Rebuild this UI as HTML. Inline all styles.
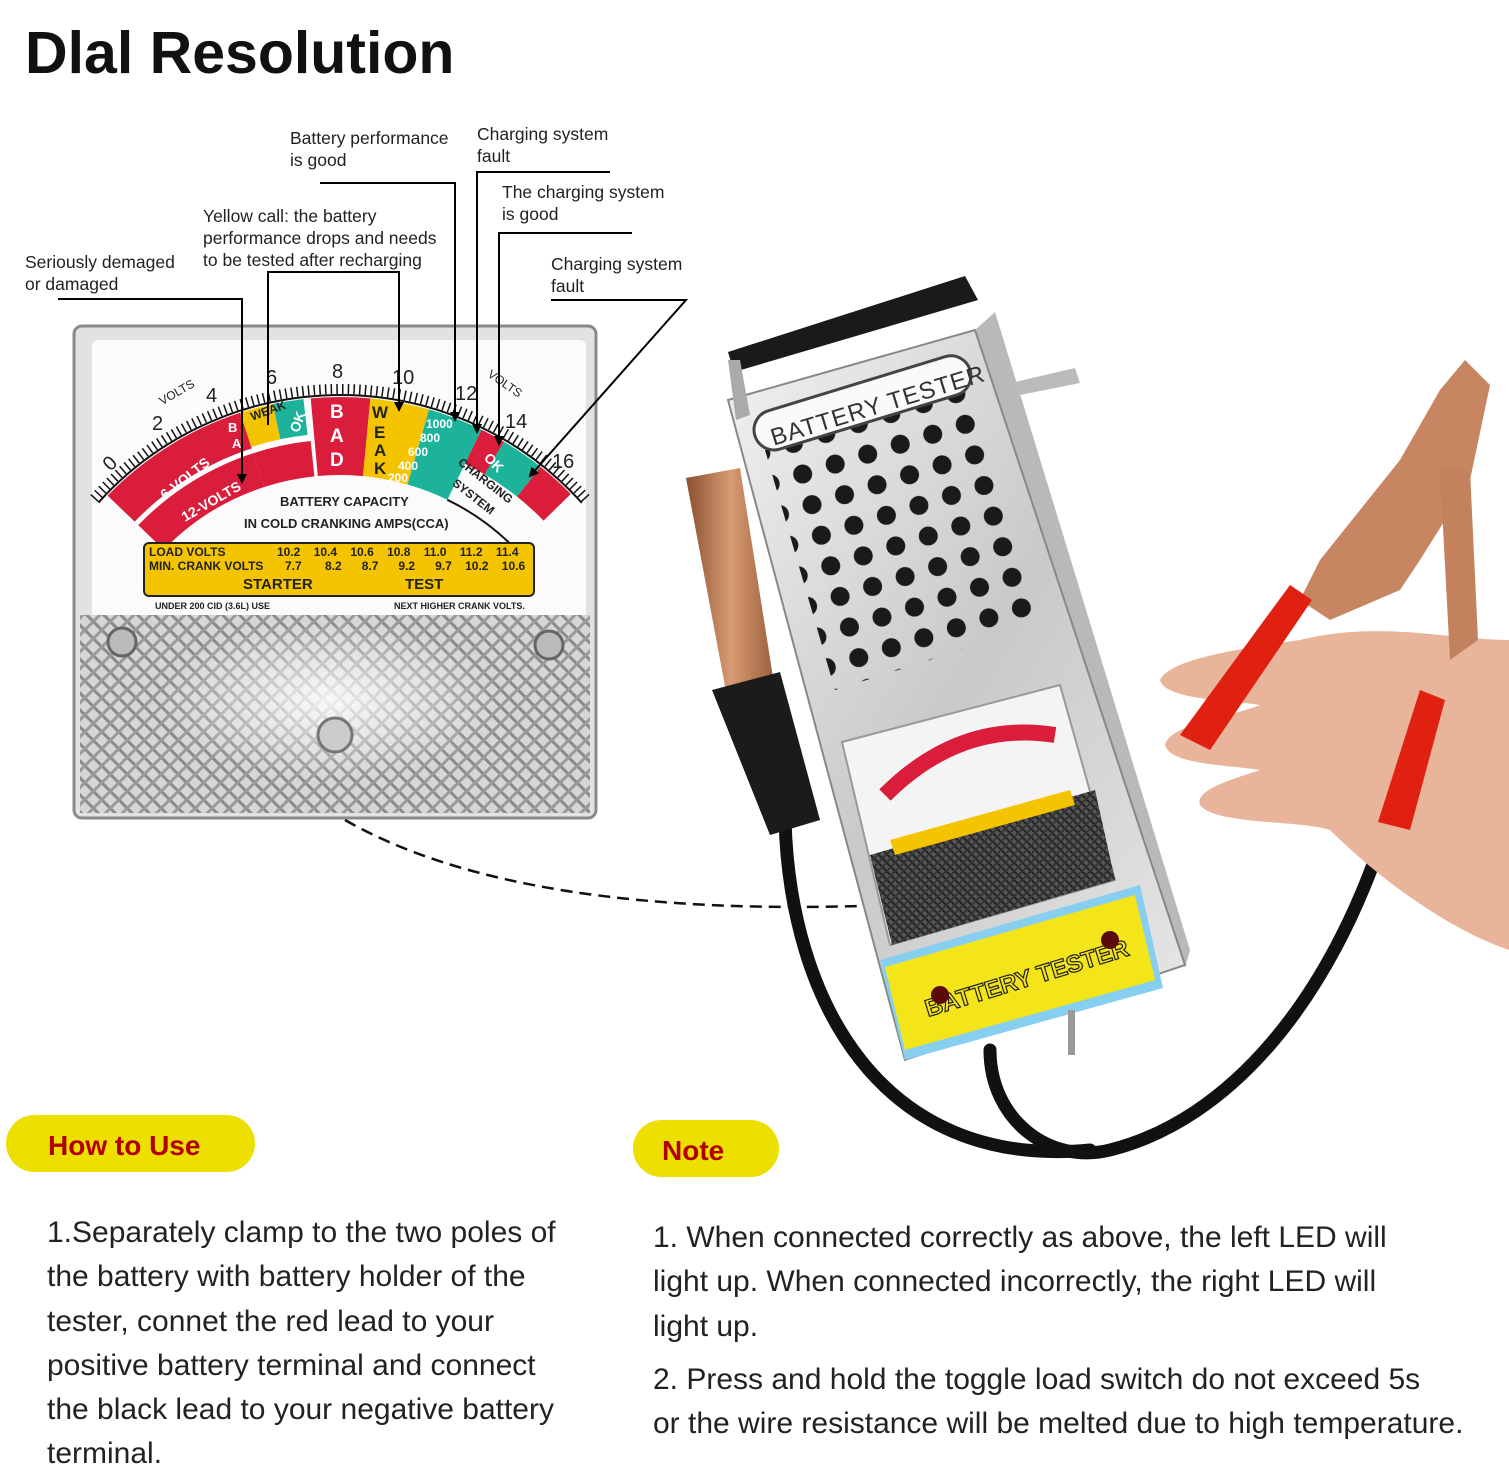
<!DOCTYPE html>
<html><head><meta charset="utf-8"><style>
html,body{margin:0;padding:0;background:#fff}
body{width:1509px;height:1479px;overflow:hidden;position:relative;font-family:"Liberation Sans",sans-serif}
svg{position:absolute;left:0;top:0}
.t{position:absolute;font-size:30px;color:#222;line-height:44.3px}
</style></head><body>
<svg width="1509" height="1479" viewBox="0 0 1509 1479" xmlns="http://www.w3.org/2000/svg">
<defs>
<pattern id="hatch" width="12" height="12" patternUnits="userSpaceOnUse" patternTransform="rotate(45)">
<rect width="12" height="12" fill="#d6d6d6"/><rect width="12" height="3" fill="#8a8a8a"/><rect width="3" height="12" fill="#9a9a9a"/>
</pattern>
<pattern id="hatch2" width="6" height="6" patternUnits="userSpaceOnUse" patternTransform="rotate(45)">
<rect width="6" height="6" fill="#555"/><rect width="6" height="2" fill="#222"/><rect width="2" height="6" fill="#333"/>
</pattern>
<pattern id="holes" width="34" height="32" patternUnits="userSpaceOnUse" patternTransform="rotate(-17)">
<circle cx="17" cy="16" r="9.5" fill="#1a1a1a"/>
</pattern>
<clipPath id="bodyclip"><polygon points="765,450 970,390 1040,625 835,690"/></clipPath>
<radialGradient id="glow" cx="0.5" cy="0.5" r="0.5"><stop offset="0" stop-color="#fff" stop-opacity="0.85"/><stop offset="1" stop-color="#fff" stop-opacity="0"/></radialGradient>
<linearGradient id="metal" x1="0" y1="0" x2="1" y2="1"><stop offset="0" stop-color="#f2f2f2"/><stop offset="0.5" stop-color="#c9c9c9"/><stop offset="1" stop-color="#e8e8e8"/></linearGradient>
<linearGradient id="copper" x1="0" y1="0" x2="1" y2="0"><stop offset="0" stop-color="#8a5030"/><stop offset="0.5" stop-color="#d79a72"/><stop offset="1" stop-color="#9b5f3c"/></linearGradient>
<marker id="ah" markerWidth="10" markerHeight="10" refX="8" refY="5" orient="auto" markerUnits="userSpaceOnUse" viewBox="0 0 10 10"><path d="M0,0 L10,5 L0,10 z" fill="#000"/></marker>
</defs>

<text x="25" y="73" font-size="59" font-weight="bold" fill="#111">Dlal Resolution</text>

<!-- meter -->
<rect x="74" y="326" width="522" height="492" rx="8" fill="#e2e2e2" stroke="#8a8a8a" stroke-width="3"/>
<rect x="92" y="340" width="494" height="280" rx="6" fill="#fbfbfb"/>
<rect x="80" y="615" width="510" height="198" fill="url(#hatch)"/>
<ellipse cx="330" cy="700" rx="170" ry="80" fill="url(#glow)"/>
<circle cx="122" cy="642" r="14" fill="#bbb" stroke="#666" stroke-width="3"/>
<circle cx="549" cy="645" r="14" fill="#bbb" stroke="#666" stroke-width="3"/>
<circle cx="335" cy="735" r="17" fill="#ccc" stroke="#777" stroke-width="3"/>

<g fill="none">
<circle cx="340" cy="720" r="284" stroke="#d91d3a" stroke-width="78" stroke-dasharray="138.8 3000" transform="rotate(224 340 720)"/>
<circle cx="340" cy="720" r="263" stroke="#d91d3a" stroke-width="36" stroke-dasharray="55.1 3000" transform="rotate(252 340 720)"/>
<circle cx="340" cy="720" r="283" stroke="#fff" stroke-width="5" stroke-dasharray="197.6 3000" transform="rotate(224 340 720)"/>
<circle cx="340" cy="720" r="305" stroke="#f5c400" stroke-width="36" stroke-dasharray="31.9 3000" transform="rotate(252 340 720)"/>
<circle cx="340" cy="720" r="305" stroke="#1db39a" stroke-width="36" stroke-dasharray="29.3 3000" transform="rotate(258 340 720)"/>
<circle cx="340" cy="720" r="284" stroke="#d91d3a" stroke-width="78" stroke-dasharray="52.5 3000" transform="rotate(264.8 340 720)"/>
<circle cx="340" cy="720" r="284" stroke="#f5c400" stroke-width="78" stroke-dasharray="52.5 3000" transform="rotate(275.4 340 720)"/>
<circle cx="340" cy="720" r="284" stroke="#1db39a" stroke-width="78" stroke-dasharray="49.6 3000" transform="rotate(286 340 720)"/>
<circle cx="340" cy="720" r="304" stroke="#d91d3a" stroke-width="38" stroke-dasharray="23.9 3000" transform="rotate(296 340 720)"/>
<circle cx="340" cy="720" r="304" stroke="#1db39a" stroke-width="38" stroke-dasharray="41.9 3000" transform="rotate(300.5 340 720)"/>
<circle cx="340" cy="720" r="304" stroke="#d91d3a" stroke-width="38" stroke-dasharray="38.2 3000" transform="rotate(308.4 340 720)"/>
<circle cx="340" cy="720" r="245" stroke="#111" stroke-width="2" stroke-dasharray="85 3000" transform="rotate(296 340 720)"/>
<circle cx="340" cy="720" r="325" stroke="#111" stroke-width="2" stroke-dasharray="545 3000" transform="rotate(222 340 720)"/>
<path d="M94,498.5 A331,331 0 0 1 586,498.5" stroke="#111" stroke-width="10" stroke-dasharray="1.5 4.2"/>
</g>
<g font-size="20" fill="#222">
<text x="104" y="468" transform="rotate(-45 112 462)">0</text>
<text x="152" y="430">2</text><text x="206" y="402">4</text><text x="266" y="384">6</text>
<text x="332" y="378">8</text><text x="392" y="384">10</text><text x="455" y="400">12</text>
<text x="505" y="428">14</text><text x="552" y="468">16</text>
<text x="158" y="400" font-size="12" transform="rotate(-30 170 395)">VOLTS</text>
<text x="484" y="385" font-size="12" transform="rotate(35 500 385)">VOLTS</text>
</g>
<g fill="#fff" font-weight="bold">
<text x="165" y="500" font-size="14" transform="rotate(-38 165 500)">6-VOLTS</text>
<text x="185" y="522" font-size="14" transform="rotate(-30 185 522)">12-VOLTS</text>
<text x="330" y="418" font-size="19">B</text><text x="330" y="442" font-size="19">A</text><text x="330" y="466" font-size="19">D</text>
<text x="228" y="432" font-size="13">B</text><text x="232" y="448" font-size="13">A</text>
<text x="287" y="433" font-size="14" transform="rotate(-70 293 425)">OK</text>
<text x="485" y="466" font-size="14" transform="rotate(45 493 460)">OK</text>
<text x="426" y="428" font-size="12">1000</text><text x="420" y="442" font-size="12">800</text><text x="408" y="456" font-size="12">600</text><text x="398" y="470" font-size="12">400</text><text x="388" y="482" font-size="12">200</text>
</g>
<g fill="#222" font-weight="bold">
<text x="372" y="418" font-size="17">W</text><text x="374" y="438" font-size="17">E</text><text x="374" y="456" font-size="17">A</text><text x="374" y="474" font-size="17">K</text>
<text x="256" y="418" font-size="12" transform="rotate(-20 262 430)">WEAK</text>
<text x="450" y="475" font-size="12" transform="rotate(38 470 480)">CHARGING</text>
<text x="447" y="492" font-size="12" transform="rotate(38 460 495)">SYSTEM</text>
<text x="280" y="506" font-size="13">BATTERY  CAPACITY</text>
<text x="244" y="528" font-size="13">IN COLD CRANKING AMPS(CCA)</text>
</g>
<rect x="144" y="543" width="390" height="53" rx="5" fill="#f5c400" stroke="#222" stroke-width="2"/>
<g font-weight="bold" font-size="12" fill="#222">
<text x="149" y="556">LOAD VOLTS</text><text x="149" y="570">MIN. CRANK VOLTS</text>
<text x="277" y="556" xml:space="preserve">10.2    10.4    10.6    10.8    11.0    11.2    11.4</text>
<text x="285" y="570" xml:space="preserve">7.7       8.2      8.7      9.2      9.7    10.2    10.6</text>
<text x="243" y="589" font-size="15">STARTER</text><text x="405" y="589" font-size="15">TEST</text>
<text x="155" y="609" font-size="9">UNDER 200 CID (3.6L) USE</text><text x="394" y="609" font-size="9">NEXT HIGHER CRANK VOLTS.</text>
</g>

<g font-size="17.5" fill="#222">
<text x="25" y="268">Seriously demaged</text><text x="25" y="290">or damaged</text>
<text x="203" y="222">Yellow call: the battery</text><text x="203" y="244">performance drops and needs</text><text x="203" y="266">to be tested after recharging</text>
<text x="290" y="144">Battery performance</text><text x="290" y="166">is good</text>
<text x="477" y="140">Charging system</text><text x="477" y="162">fault</text>
<text x="502" y="198">The charging system</text><text x="502" y="220">is good</text>
<text x="551" y="270">Charging system</text><text x="551" y="292">fault</text>
</g>
<g stroke="#000" stroke-width="2" fill="none">
<polyline points="58,299 242,299 242,482" marker-end="url(#ah)"/>
<polyline points="268,425 268,272 399,272 399,410" marker-end="url(#ah)"/>
<polyline points="320,183 455,183 455,420" marker-end="url(#ah)"/>
<polyline points="610,172 477,172 477,432" marker-end="url(#ah)"/>
<polyline points="632,233 499,233 499,444" marker-end="url(#ah)"/>
<polyline points="551,300 686,300 530,476" marker-end="url(#ah)"/>
</g>
<path d="M345,820 Q520,920 890,905" fill="none" stroke="#111" stroke-width="2.5" stroke-dasharray="12 7"/>

<g fill="none" stroke="#111" stroke-width="13" stroke-linecap="round">
<path d="M785,820 C790,1000 880,1170 1090,1150"/>
<path d="M1385,830 C1330,1000 1230,1120 1110,1150 C1050,1165 990,1120 990,1050"/>
</g>
<polygon points="975,330 995,312 1190,950 1185,968" fill="#b9b9b9"/>
<polygon points="728,400 975,330 1185,965 905,1060" fill="url(#metal)" stroke="#888" stroke-width="2"/>
<polygon points="728,352 965,276 978,300 734,372" fill="#1a1a1a"/>
<polygon points="728,360 740,360 750,415 736,420" fill="#aaa"/>
<polygon points="1015,382 1075,368 1080,383 1020,395" fill="#bbb"/>
<rect x="740" y="380" width="320" height="340" fill="url(#holes)" clip-path="url(#bodyclip)"/>
<rect x="750" y="383" width="225" height="40" rx="20" fill="#fafafa" stroke="#444" stroke-width="3" transform="rotate(-17 862 403)"/>
<text x="765" y="418" font-size="24" fill="#333" transform="rotate(-17 862 403)" letter-spacing="1">BATTERY  TESTER</text>
<polygon points="842,742 1060,685 1115,880 890,945" fill="#f4f4f4" stroke="#999" stroke-width="2"/>
<polygon points="870,855 1095,790 1115,880 892,945" fill="url(#hatch2)"/>
<path d="M885,795 Q960,720 1055,735" fill="none" stroke="#d91d3a" stroke-width="16"/>
<polygon points="890,840 1070,790 1075,805 895,855" fill="#f5c400"/>
<polygon points="880,960 1140,885 1163,988 905,1060" fill="#87cff0"/>
<polygon points="885,967 1135,895 1155,980 905,1050" fill="#f4e41a"/>
<text x="912" y="990" font-size="24" font-weight="bold" fill="#f4e41a" stroke="#222" stroke-width="1.2" transform="rotate(-17 1010 950)">BATTERY  TESTER</text>
<circle cx="940" cy="995" r="9" fill="#5a0a0a"/><circle cx="1110" cy="940" r="9" fill="#5a0a0a"/>
<rect x="1068" y="1010" width="7" height="45" fill="#999"/>
<polygon points="686,478 740,468 775,690 728,702" fill="url(#copper)"/>
<polygon points="712,690 780,672 820,820 770,835" fill="#1b1b1b"/>
<path d="M1509,640 C1450,640 1380,620 1300,640 C1230,650 1170,660 1160,680 C1165,700 1230,700 1260,705 C1220,720 1170,725 1165,745 C1170,765 1230,765 1260,770 C1230,780 1195,790 1200,805 C1215,825 1300,820 1330,830 C1380,880 1450,930 1509,950 Z" fill="#e8b49a"/>
<polygon points="1465,360 1490,385 1470,480 1420,560 1400,590 1330,620 1300,600 1320,560 1400,460 1440,390" fill="#c88562"/>
<polygon points="1440,470 1470,470 1478,640 1450,660" fill="#c4815e"/>
<polygon points="1290,585 1312,600 1210,750 1180,735" fill="#e02010"/>
<polygon points="1420,690 1445,700 1410,830 1378,822" fill="#e02010"/>
<rect x="6" y="1115" width="249" height="57" rx="28.5" fill="#ede000"/>
<text x="48" y="1155" font-size="28" font-weight="bold" fill="#b00000">How to Use</text>
<rect x="633" y="1120" width="146" height="57" rx="28.5" fill="#ede000"/>
<text x="662" y="1160" font-size="28" font-weight="bold" fill="#b00000">Note</text>
</svg>
<div class="t" style="left:47px;top:1211px;width:580px">1.Separately clamp to the two poles of<br>the battery with battery holder of the<br>tester, connet the red lead to your<br>positive battery terminal and connect<br>the black lead to your negative battery<br>terminal.</div>
<div class="t" style="left:653px;top:1216px;width:860px">1. When connected correctly as above, the left LED will<br>light up. When connected incorrectly, the right LED will<br>light up.</div>
<div class="t" style="left:653px;top:1358px;width:860px">2. Press and hold the toggle load switch do not exceed 5s<br>or the wire resistance will be melted due to high temperature.</div>
</body></html>
